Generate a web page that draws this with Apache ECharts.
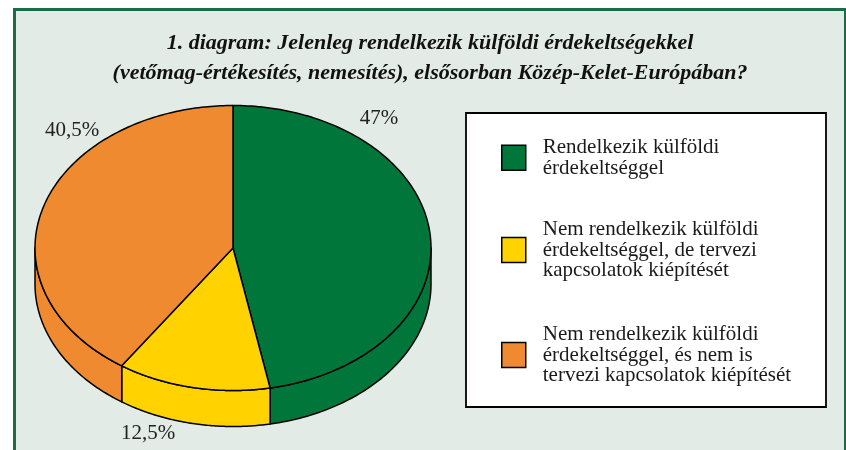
<!DOCTYPE html>
<html>
<head>
<meta charset="utf-8">
<script src="https://cdn.jsdelivr.net/npm/echarts@6/dist/echarts.min.js"></script>
<style>
html,body{margin:0;padding:0;background:#ffffff;}
#chart{width:846px;height:450px;}
</style>
</head>
<body>
<div id="chart"></div>
<script>
// ---- data ----
var categories = [
  'Rendelkezik külföldi\nérdekeltséggel',
  'Nem rendelkezik külföldi\nérdekeltséggel, de tervezi\nkapcsolatok kiépítését',
  'Nem rendelkezik külföldi\nérdekeltséggel, és nem is\ntervezi kapcsolatok kiépítését'
];
var values = [47, 12.5, 40.5];
var valueLabels = ['47%', '12,5%', '40,5%'];
var titleLines = [
  '1. diagram: Jelenleg rendelkezik külföldi érdekeltségekkel',
  '(vetőmag-értékesítés, nemesítés), elsősorban Közép-Kelet-Európában?'
];

// ---- style / layout ----
var colors = ['#00763a', '#ffd200', '#ef8a30'];
var pie = { cx: 233, cy: 248, rx: 198, ry: 142.5, depth: 36 };
var labelOffsets = [[146, -130], [-85, 185], [-161, -118]];
var legendTops = [137, 219, 324];
var serif = '"Liberation Serif", "Times New Roman", serif';

var total = values.reduce(function (a, b) { return a + b; }, 0);
var starts = [];
(function () { var acc = 0; values.forEach(function (v) { starts.push(acc); acc += v; }); })();

function pt(theta, dy) {
  return [pie.cx + pie.rx * Math.sin(theta), pie.cy - pie.ry * Math.cos(theta) + (dy || 0)];
}

function makeRender(idx) {
  return function (params, api) {
    var v = api.value(0);
    var a1 = starts[idx] / total * Math.PI * 2;
    var a2 = a1 + v / total * Math.PI * 2;
    var children = [];
    // side wall (front half: theta in [PI/2, 3PI/2])
    var s = Math.max(a1, Math.PI / 2), e = Math.min(a2, Math.PI * 1.5);
    if (e > s) {
      var poly = [], n = 80, i;
      for (i = 0; i <= n; i++) poly.push(pt(s + (e - s) * i / n, 0));
      for (i = n; i >= 0; i--) poly.push(pt(s + (e - s) * i / n, pie.depth));
      children.push({
        type: 'polygon', z2: 1,
        shape: { points: poly },
        style: { fill: colors[idx], stroke: '#000', lineWidth: 1.5, lineJoin: 'round' }
      });
    }
    // top sector
    var top = [[pie.cx, pie.cy]], m = 160;
    for (var j = 0; j <= m; j++) top.push(pt(a1 + (a2 - a1) * j / m, 0));
    children.push({
      type: 'polygon', z2: 2,
      shape: { points: top },
      style: { fill: colors[idx], stroke: '#000', lineWidth: 1.5, lineJoin: 'round' }
    });
    children.push({
      type: 'text', z2: 3,
      x: pie.cx + labelOffsets[idx][0], y: pie.cy + labelOffsets[idx][1],
      style: {
        text: valueLabels[idx], fill: '#222', font: '21px ' + serif,
        align: 'center', verticalAlign: 'middle'
      }
    });
    return { type: 'group', children: children };
  };
}

var series = values.map(function (v, i) {
  return {
    type: 'custom',
    name: categories[i],
    coordinateSystem: 'none',
    itemStyle: { color: colors[i] },
    data: [[v]],
    renderItem: makeRender(i),
    silent: true,
    animation: false
  };
});

var legends = categories.map(function (c, i) {
  return {
    data: [c],
    left: 501,
    top: legendTops[i],
    orient: 'vertical',
    padding: 0,
    icon: 'rect',
    itemWidth: 24,
    itemHeight: 25,
    selectedMode: false,
    itemStyle: { borderColor: '#000', borderWidth: 1.5 },
    textStyle: {
      fontFamily: serif, fontSize: 21, color: '#1a1a1a',
      lineHeight: 20.5, padding: [0, 0, 0, 12]
    }
  };
});

var chart = echarts.init(document.getElementById('chart'), null, { renderer: 'canvas' });
chart.setOption({
  animation: false,
  backgroundColor: '#ffffff',
  title: {
    text: titleLines.join('\n'),
    left: 430,
    top: 28,
    textAlign: 'center',
    padding: 0,
    textStyle: {
      fontFamily: serif, fontStyle: 'italic', fontWeight: 'bold',
      fontSize: 22, lineHeight: 30, color: '#111'
    }
  },
  graphic: [
    { type: 'rect', z: -10, shape: { x: 14.5, y: 9.5, width: 831, height: 460 },
      style: { fill: '#e2ebe5', stroke: '#1c6a48', lineWidth: 3 } },
    { type: 'rect', z: -5, shape: { x: 466, y: 113, width: 360, height: 294 },
      style: { fill: '#ffffff', stroke: '#000', lineWidth: 1.8 } }
  ],
  legend: legends,
  series: series
});
</script>
</body>
</html>
